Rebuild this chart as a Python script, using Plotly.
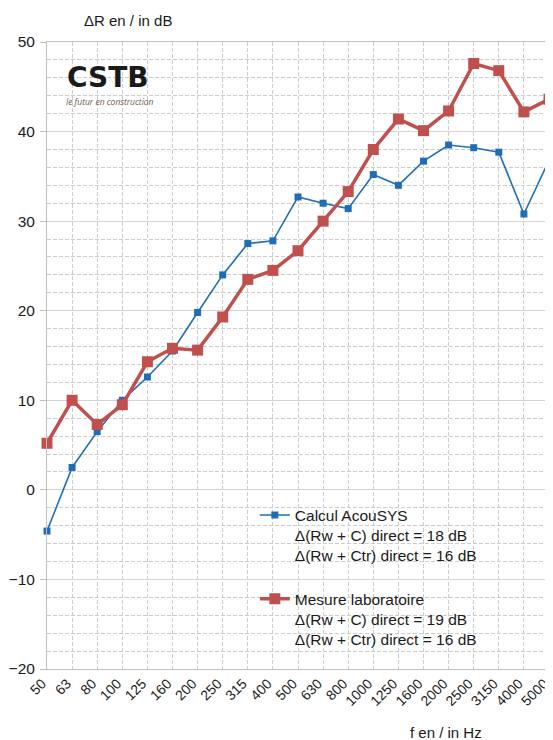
import plotly.graph_objects as go

freqs = ["50", "63", "80", "100", "125", "160", "200", "250", "315", "400", "500",
         "630", "800", "1000", "1250", "1600", "2000", "2500", "3150", "4000", "5000"]

calcul_acousys = [-4.6, 2.5, 6.5, 10.0, 12.6, 15.5, 19.8, 24.0, 27.5, 27.8, 32.7,
                  32.0, 31.4, 35.2, 34.0, 36.7, 38.5, 38.2, 37.7, 30.8, 36.8]

mesure_labo = [5.2, 10.0, 7.3, 9.5, 14.3, 15.8, 15.6, 19.3, 23.5, 24.5, 26.7,
               30.0, 33.3, 38.0, 41.4, 40.1, 42.3, 47.6, 46.8, 42.2, 43.6]

y_ticks = [-20, -10, 0, 10, 20, 30, 40, 50]

FONT = "Liberation Sans, Arial, sans-serif"
BLUE = "#1F6EB5"
RED = "#C0504D"
TXT = "#1a1a1a"

fig = go.Figure()

fig.add_trace(go.Scatter(
    x=freqs, y=calcul_acousys, mode="lines+markers",
    name="Calcul AcouSYS<br>Δ(Rw + C) direct = 18 dB<br>Δ(Rw + Ctr) direct = 16 dB<br> ",
    line=dict(color=BLUE, width=1.6),
    marker=dict(symbol="square", size=7, color=BLUE),
    cliponaxis=False,
))

fig.add_trace(go.Scatter(
    x=freqs, y=mesure_labo, mode="lines+markers",
    name="Mesure laboratoire<br>Δ(Rw + C) direct = 19 dB<br>Δ(Rw + Ctr) direct = 16 dB",
    line=dict(color=RED, width=3.5),
    marker=dict(symbol="square", size=11, color=RED),
    cliponaxis=False,
))

# white box behind the legend (hides the grid there)
fig.add_shape(type="rect", xref="paper", yref="paper",
              x0=0.35, x1=0.946, y0=0.049, y1=0.285,
              fillcolor="white", line=dict(width=0), layer="between")

# CSTB logo as text
fig.add_annotation(text="<b>CSTB</b>", xref="paper", yref="paper", x=0.035, y=0.943,
                   xanchor="left", yanchor="middle", showarrow=False,
                   font=dict(family="DejaVu Sans, sans-serif", size=28, color="#1a1a1a"))
fig.add_annotation(text="<i>le futur en construction</i>", xref="paper", yref="paper",
                   x=0.033, y=0.905, xanchor="left", yanchor="middle", showarrow=False,
                   font=dict(family="Open Sans, sans-serif", size=8.5, color="#6b5a48"))

# axis titles
fig.add_annotation(text="ΔR en / in dB", xref="paper", yref="paper", x=0.07, y=1.0,
                   xanchor="left", yanchor="middle", yshift=22, showarrow=False,
                   font=dict(family=FONT, size=15, color=TXT))
fig.add_annotation(text="f en / in Hz", xref="paper", yref="paper", x=0.795, y=0,
                   xanchor="center", yanchor="middle", yshift=-63, showarrow=False,
                   font=dict(family=FONT, size=15, color=TXT))

# page body adds an 8px offset, so the figure is shrunk by that much
fig.update_layout(
    width=545, height=732,
    margin=dict(l=39, r=4, t=34, b=71),
    plot_bgcolor="white", paper_bgcolor="white",
    font=dict(family=FONT, size=15, color=TXT),
    showlegend=True,
    legend=dict(x=0.414, y=0.272, xanchor="left", yanchor="top", valign="top",
                bgcolor="rgba(0,0,0,0)", font=dict(family=FONT, size=15.5, color=TXT),
                tracegroupgap=0),
    xaxis=dict(
        type="category", range=[0, len(freqs) - 1], automargin=False,
        tickangle=-45, tickfont=dict(size=14, color=TXT), ticklabelshift=-5,
        showgrid=True, gridcolor="#cccccc", griddash="4px,2px", gridwidth=1,
        showline=True, linecolor="#bfbfbf", mirror=True, ticks="",
        zeroline=False,
    ),
    yaxis=dict(
        range=[-20, 50], tickvals=y_ticks, tickfont=dict(size=15.5, color=TXT),
        automargin=False, ticklabelstandoff=2,
        showgrid=True, gridcolor="#d4d4d4", gridwidth=1,
        minor=dict(dtick=2, tick0=0, showgrid=True, gridcolor="#cccccc",
                   griddash="4px,2px", ticks=""),
        showline=True, linecolor="#bfbfbf", mirror=True,
        ticks="outside", ticklen=6, tickcolor="#bfbfbf",
        zeroline=False,
    ),
)

fig.write_html("out.html")
